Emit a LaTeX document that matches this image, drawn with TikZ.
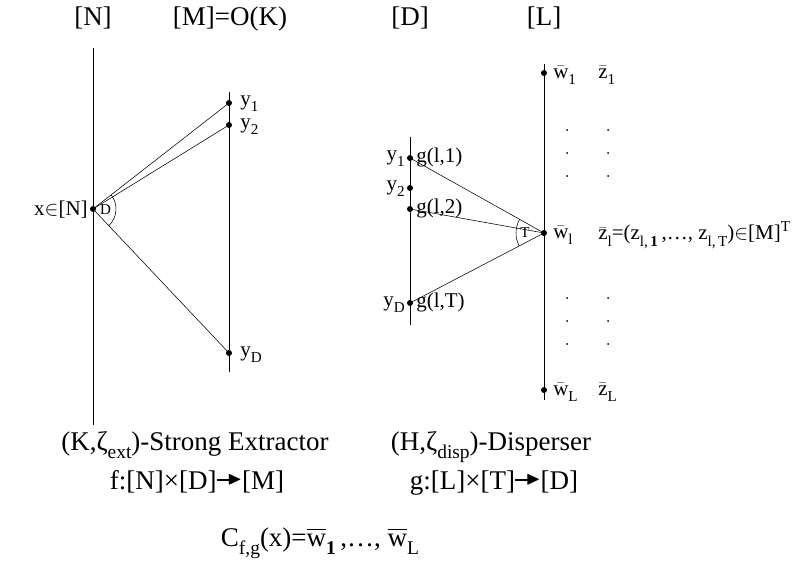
\documentclass[tikz,border=0pt]{standalone}
\usepackage{fontspec}
\usepackage{amssymb}
\setmainfont{Liberation Serif}
\usetikzlibrary{angles,quotes}

\makeatletter
\newcommand{\sbs}[1]{{\@tempdima=\f@size pt\@tempdima=0.72\@tempdima
    \edef\sbsize{\strip@pt\@tempdima}%
    \raisebox{-0.3em}{\fontsize{\sbsize}{\sbsize}\selectfont #1}}}
\newcommand{\sps}[1]{{\@tempdima=\f@size pt\@tempdima=0.72\@tempdima
    \edef\sbsize{\strip@pt\@tempdima}%
    \raisebox{0.4em}{\fontsize{\sbsize}{\sbsize}\selectfont #1}}}
\makeatother
\newcommand{\tarrow}{\raisebox{0.1em}{$\mathrel{\vcenter{\hbox{\rule{0.55em}{0.05em}}}\mkern-3mu\vcenter{\hbox{\scalebox{0.7}{$\blacktriangleright$}}}}$}}
\newcommand{\wb}{$\bar{\mbox{w}}$}
\newcommand{\zb}{$\bar{\mbox{z}}$}

\begin{document}
\begin{tikzpicture}[x=1pt, y=-1pt, line width=0.55pt,
    vtx/.style={circle, fill, inner sep=0pt, minimum size=6pt},
    big/.style={font=\fontsize{27}{30}\selectfont, anchor=base, inner sep=0pt},
    lab/.style={font=\fontsize{21}{23}\selectfont, inner sep=0pt},
    ang/.style={draw, angle radius=#1, font=\fontsize{15}{16}\selectfont}]
    \useasboundingbox (0,0) rectangle (808,564);

    % column headers
    \node[big] (hN) at (93,26) {[N]};
    \node[big] (hM) at (230,26) {[M]=O(K)};
    \node[big] (hD) at (410,26) {[D]};
    \node[big] (hL) at (544,26) {[L]};

    % extractor
    \coordinate (Ntop) at (93,48);
    \coordinate (Nbot) at (93,425);
    \coordinate (Mtop) at (229,92);
    \coordinate (Mbot) at (229,372);
    \draw (Ntop) -- (Nbot);
    \draw (Mtop) -- (Mbot);
    \node[vtx] (x) at (93,209) {};
    \node[vtx] (y1) at (229,103) {};
    \node[vtx] (y2) at (229,125) {};
    \node[vtx] (yD) at (229,353) {};
    \node[lab, anchor=east] (xlab) at (88,210) {x$\in$[N]};
    \node[lab, anchor=west] (y1lab) at (240,104) {y\sbs{1}};
    \node[lab, anchor=west] (y2lab) at (240,127) {y\sbs{2}};
    \node[lab, anchor=west] (yDlab) at (240,355) {y\sbs{D}};
    \draw (x.center) -- (y1.center);
    \draw (x.center) -- (y2.center);
    \draw (x.center) -- (yD.center);
    \pic[ang=23pt, "D", angle eccentricity=0.55] {angle=yD--x--y1};

    % disperser
    \coordinate (Dtop) at (410,137);
    \coordinate (Dbot) at (410,325);
    \coordinate (Ltop) at (544,64);
    \coordinate (Lbot) at (544,400);
    \draw (Dtop) -- (Dbot);
    \draw (Ltop) -- (Lbot);
    \node[vtx] (g1) at (410,158) {};
    \node[vtx] (d2) at (410,188) {};
    \node[vtx] (g2) at (410,209) {};
    \node[vtx] (gT) at (410,303) {};
    \node[lab, anchor=east] (d1lab) at (405,159) {y\sbs{1}};
    \node[lab, anchor=east] (d2lab) at (405,189) {y\sbs{2}};
    \node[lab, anchor=east] (dDlab) at (405,305) {y\sbs{D}};
    \node[lab, anchor=west] (g1lab) at (416,157) {g(l,1)};
    \node[lab, anchor=west] (g2lab) at (416,208) {g(l,2)};
    \node[lab, anchor=west] (gTlab) at (416,302) {g(l,T)};

    \node[vtx] (w1) at (544,73) {};
    \node[vtx] (wl) at (544,233) {};
    \node[vtx] (wL) at (544,390) {};
    \draw (wl.center) -- (g1.center);
    \draw (wl.center) -- (g2.center);
    \draw (wl.center) -- (gT.center);
    \pic[ang=28pt, "T", angle eccentricity=0.68] {angle=g1--wl--gT};

    \node[lab, anchor=west] (w1lab) at (553,75) {\wb\sbs{1}};
    \node[lab, anchor=west] (z1lab) at (598,75) {\zb\sbs{1}};
    \node[lab, anchor=west] (wllab) at (553,235) {\wb\sbs{l}};
    \node[lab, anchor=west] (zllab) at (598,235) {\zb\sbs{l}=(z\sbs{l,\,\textbf{1}}\,,\dots, z\sbs{l,\,T})$\in$[M]\sps{T}};
    \node[lab, anchor=west] (wLlab) at (553,392) {\wb\sbs{L}};
    \node[lab, anchor=west] (zLlab) at (598,392) {\zb\sbs{L}};
    \foreach \yy in {130,153,176,298,321,344}
        \fill (567,\yy) circle (1pt) (608,\yy) circle (1pt);

    % captions
    \node[big] (ext) at (195,450) {(K,ζ\sbs{ext})-Strong Extractor};
    \node[big] (f) at (197,489) {f:[N]×[D]\tarrow[M]};
    \node[big] (disp) at (491,450) {(H,ζ\sbs{disp})-Disperser};
    \node[big] (g) at (494,489) {g:[L]×[T]\tarrow[D]};
    \node[big] (cfg) at (320,546) {C\sbs{f,g}(x)=$\overline{\mbox{w}}$\sbs{\textbf{1}}\,,\dots, $\overline{\mbox{w}}$\sbs{L}};
\end{tikzpicture}
\end{document}
